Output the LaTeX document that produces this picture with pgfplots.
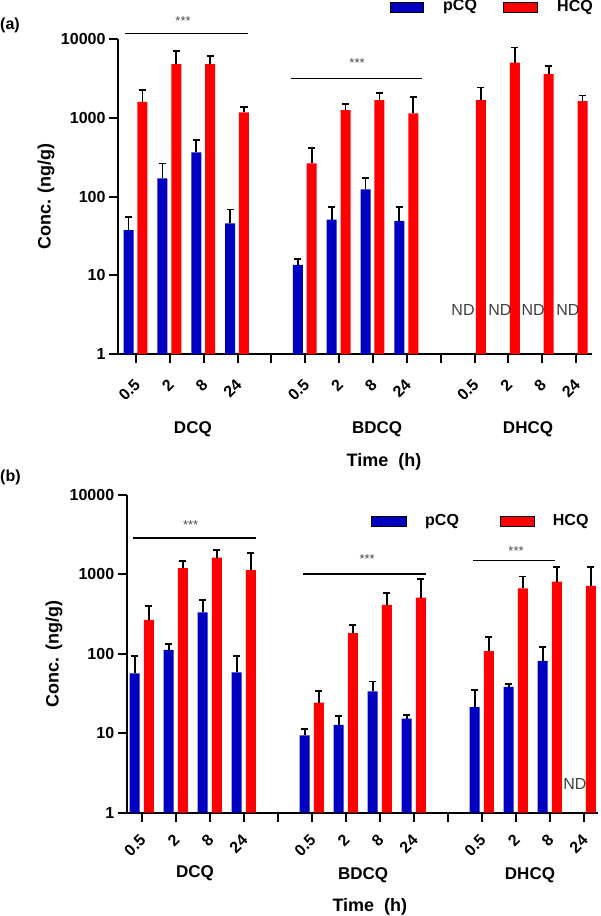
\documentclass[border=0pt]{standalone}
\usepackage{pgfplots}
\pgfplotsset{compat=1.18}
\usepackage{pgfplotstable}
\usepackage{fontspec}
\setmainfont{Liberation Sans}
\definecolor{pcq}{RGB}{0,0,192}
\definecolor{hcq}{RGB}{255,0,0}
\newcommand{\fsz}[1]{\fontsize{#1}{#1}\selectfont}
\newcommand{\tl}[1]{\mbox{\fsz{16}\bfseries #1}}

% panel (a): x = position, y = mean, e = upper error
\pgfplotstableread{
x y e
0 37.5 17.5
1 170 93
2 363 159
3 45.5 23
5 13.5 2.6
6 51 23
7 123 47
8 49 25
}\pcqA
\pgfplotstableread{
x y e
0 1590 650
1 4790 2210
2 4790 1250
3 1167 213
5 263 151
6 1248 232
7 1670 370
8 1135 705
10 1670 755
11 5030 2770
12 3573 947
13 1625 290
}\hcqA
% panel (b)
\pgfplotstableread{
x y e
0 57 38
1 112 20
2 334 143
3 58.6 36.4
5 9.4 2
6 12.8 3.7
7 33.8 11.2
8 15.3 1.5
10 21.4 13.6
11 38.3 3.5
12 81.4 40.6
}\pcqB
\pgfplotstableread{
x y e
0 267 134
1 1197 283
2 1630 410
3 1130 750
5 24.3 9.7
6 182 49
7 413 167
8 510 360
10 108 54
11 670 270
12 812 442
13 717 537
}\hcqB

\tikzset{
  mystar/.style={font=\fsz{13}, text=black!70},
  mynd/.style={font=\fsz{16}, text=black!75},
  mygrp/.style={font=\fsz{17}\bfseries},
  mykey/.style={draw=black, line width=0.6pt},
  mylab/.style={anchor=west, inner sep=0pt, font=\fsz{16}\bfseries},
}

\begin{document}
\begin{tikzpicture}
\useasboundingbox (0,0) rectangle (600pt,-916pt);

% ---------- (a) ----------
\node[font=\fsz{16}\bfseries, anchor=west, inner sep=0pt] at (0pt,-25pt) {(a)};
\begin{axis}[
  at={(118pt,-354pt)}, anchor=south west,
  scale only axis, width=474pt, height=315pt,
  xmin=-0.532, xmax=13.47,
  ymode=log, ymin=1, ymax=10000,
  axis x line*=bottom, axis y line*=left,
  axis line style={line width=2pt},
  tick align=outside, major tick length=9pt,
  tick style={black, line width=2pt},
  ytick={1,10,100,1000,10000},
  yticklabels={\tl{1},\tl{10},\tl{100},\tl{1000},\tl{10000}},
  yminorticks=false,
  xtick={0,...,13},
  xticklabels={\tl{0.5},\tl{2},\tl{8},\tl{24},,\tl{0.5},\tl{2},\tl{8},\tl{24},,\tl{0.5},\tl{2},\tl{8},\tl{24}},
  xticklabel style={xshift=2pt, rotate=45, anchor=east, inner sep=1pt},
  xticklabel shift=18pt,
  label style={font=\fsz{18}\bfseries},
  ylabel={Conc. (ng/g)}, xlabel={Time\ \ (h)},
  ylabel style={at={(axis description cs:-0.152,0.5)}, anchor=center},
  xlabel style={at={(axis description cs:0.561,-0.343)}, anchor=center},
  clip=false,
]
\addplot[ybar, bar width=10pt, bar shift=0pt, fill=pcq, draw=none,
  error bars/.cd, y dir=plus, y explicit,
  error bar style={black, line width=1.8pt},
  error mark options={rotate=90, mark size=3.5pt, line width=1.8pt, black}]
  table[x expr=\thisrow{x}-0.22, y=y, y error plus=e] {\pcqA};
\addplot[ybar, bar width=10pt, bar shift=0pt, fill=hcq, draw=none,
  error bars/.cd, y dir=plus, y explicit,
  error bar style={black, line width=1.8pt},
  error mark options={rotate=90, mark size=3.5pt, line width=1.8pt, black}]
  table[x expr=\thisrow{x}+0.19, y=y, y error plus=e] {\hcqA};

\draw[line width=1.8pt] (axis cs:-0.32,11750) -- (axis cs:3.31,11750);
\node[mystar] at (axis cs:1.39,16800) {***};
\draw[line width=1.8pt] (axis cs:4.58,3150) -- (axis cs:8.45,3150);
\node[mystar] at (axis cs:6.53,4930) {***};

\node[mynd] at (axis cs:9.66,3.6) {ND};
\node[mynd] at (axis cs:10.75,3.6) {ND};
\node[mynd] at (axis cs:11.73,3.6) {ND};
\node[mynd] at (axis cs:12.76,3.6) {ND};

\node[mygrp] at ([yshift=-75pt]axis cs:1.68,1) {DCQ};
\node[mygrp] at ([yshift=-75pt]axis cs:7.12,1) {BDCQ};
\node[mygrp] at ([yshift=-75pt]axis cs:11.58,1) {DHCQ};
\end{axis}
% legend (a)
\fill[pcq, mykey] (390pt,-2pt) rectangle (423pt,-12pt);
\node[mylab] at (443pt,-7pt) {pCQ};
\fill[hcq, mykey] (503pt,-2pt) rectangle (537pt,-12pt);
\node[mylab] at (557pt,-7pt) {HCQ};

% ---------- (b) ----------
\node[font=\fsz{16}\bfseries, anchor=west, inner sep=0pt] at (0pt,-477pt) {(b)};
\begin{axis}[
  at={(126.7pt,-812.7pt)}, anchor=south west,
  scale only axis, width=471.3pt, height=317.7pt,
  xmin=-0.44, xmax=13.42,
  ymode=log, ymin=1, ymax=10000,
  axis x line*=bottom, axis y line*=left,
  axis line style={line width=2pt},
  tick align=outside, major tick length=9pt,
  tick style={black, line width=2pt},
  ytick={1,10,100,1000,10000},
  yticklabels={\tl{1},\tl{10},\tl{100},\tl{1000},\tl{10000}},
  yminorticks=false,
  xtick={0,...,13},
  xticklabels={\tl{0.5},\tl{2},\tl{8},\tl{24},,\tl{0.5},\tl{2},\tl{8},\tl{24},,\tl{0.5},\tl{2},\tl{8},\tl{24}},
  xticklabel style={xshift=2pt, rotate=45, anchor=east, inner sep=1pt},
  xticklabel shift=15pt,
  label style={font=\fsz{18}\bfseries},
  ylabel={Conc. (ng/g)}, xlabel={Time\ \ (h)},
  ylabel style={at={(axis description cs:-0.154,0.5)}, anchor=center},
  xlabel style={at={(axis description cs:0.516,-0.297)}, anchor=center},
  clip=false,
]
\addplot[ybar, bar width=10pt, bar shift=0pt, fill=pcq, draw=none,
  error bars/.cd, y dir=plus, y explicit,
  error bar style={black, line width=1.8pt},
  error mark options={rotate=90, mark size=3.5pt, line width=1.8pt, black}]
  table[x expr=\thisrow{x}-0.206, y=y, y error plus=e] {\pcqB};
\addplot[ybar, bar width=10pt, bar shift=0pt, fill=hcq, draw=none,
  error bars/.cd, y dir=plus, y explicit,
  error bar style={black, line width=1.8pt},
  error mark options={rotate=90, mark size=3.5pt, line width=1.8pt, black}]
  table[x expr=\thisrow{x}+0.21, y=y, y error plus=e] {\hcqB};

\draw[line width=1.8pt] (axis cs:-0.26,2860) -- (axis cs:3.36,2860);
\node[mystar] at (axis cs:1.44,4200) {***};
\draw[line width=1.8pt] (axis cs:4.74,1015) -- (axis cs:8.36,1015);
\node[mystar] at (axis cs:6.63,1567) {***};
\draw[line width=1.8pt] (axis cs:9.74,1500) -- (axis cs:12.16,1500);
\node[mystar] at (axis cs:11.01,1977) {***};

\node[mynd] at (axis cs:12.74,2.28) {ND};

\node[mygrp] at ([yshift=-61pt]axis cs:1.57,1) {DCQ};
\node[mygrp] at ([yshift=-63pt]axis cs:6.51,1) {BDCQ};
\node[mygrp] at ([yshift=-63pt]axis cs:11.42,1) {DHCQ};
\end{axis}
% legend (b)
\fill[pcq, mykey] (371.7pt,-516.7pt) rectangle (406.7pt,-526.7pt);
\node[mylab] at (425pt,-521.7pt) {pCQ};
\fill[hcq, mykey] (500pt,-516.7pt) rectangle (534.3pt,-526.7pt);
\node[mylab] at (552.7pt,-521.7pt) {HCQ};
\end{tikzpicture}
\end{document}
